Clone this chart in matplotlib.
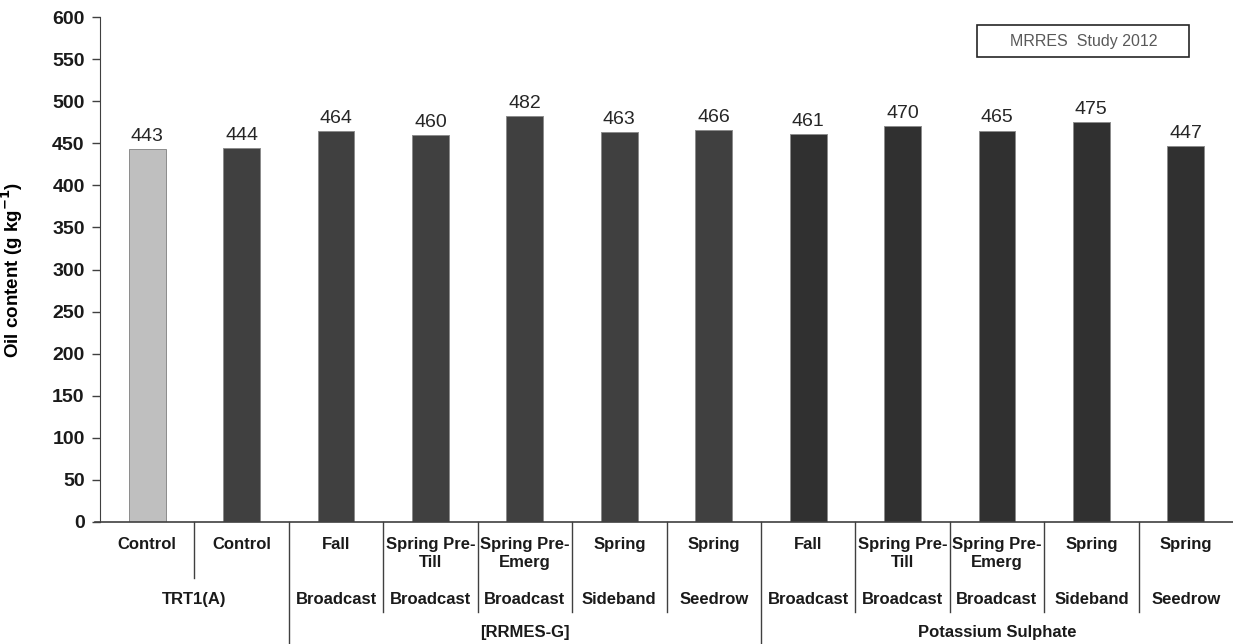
import matplotlib
matplotlib.use("Agg")
import matplotlib.pyplot as plt
from matplotlib.lines import Line2D
from matplotlib.patches import Rectangle

plt.rcParams['font.family'] = ['Liberation Sans', 'DejaVu Sans']

# data
values = [443, 444, 464, 460, 482, 463, 466, 461, 470, 465, 475, 447]
level1 = ["Control", "Control", "Fall", "Spring Pre-\nTill", "Spring Pre-\nEmerg", "Spring", "Spring",
          "Fall", "Spring Pre-\nTill", "Spring Pre-\nEmerg", "Spring", "Spring"]
level2 = ["TRT1(A)", "Broadcast", "Broadcast", "Broadcast", "Sideband", "Seedrow",
          "Broadcast", "Broadcast", "Broadcast", "Sideband", "Seedrow"]
level2_span = [2, 1, 1, 1, 1, 1, 1, 1, 1, 1, 1]
groups = ["", "[RRMES-G]", "Potassium Sulphate"]
group_size = [2, 5, 5]
bar_colors = ["#bfbfbf", "#404040"] + ["#404040"] * 5 + ["#303030"] * 5
yticks = list(range(0, 601, 50))

fig = plt.figure(figsize=(12.33, 6.44), dpi=100)
ax = fig.add_axes([100 / 1233, 1 - 522 / 644, 1 - 100 / 1233, 505 / 644])

x = list(range(len(values)))
bars = ax.bar(x, values, width=0.39, color=bar_colors, edgecolor="#8c8c8c", linewidth=0.7, zorder=2)
for xi, v in zip(x, values):
    ax.annotate(str(v), (xi, v), xytext=(0, 3), textcoords="offset points",
                ha="center", va="bottom", fontsize=14, color="#262626")

ax.set_xlim(-0.5, len(values) - 0.5)
ax.set_ylim(0, 600)
ax.set_yticks(yticks)
ax.set_yticklabels([str(t) for t in yticks], fontsize=14, fontweight="bold", color="#1a1a1a")
ax.tick_params(axis="y", direction="out", length=6, width=1, color="#404040", pad=5)
ax.set_xticks([])
for s in ["top", "right", "bottom"]:
    ax.spines[s].set_visible(False)
ax.spines["left"].set_color("#404040")
ax.set_ylabel("Oil content (g kg$^{\\mathbf{-1}}$)", fontsize=13.5, fontweight="bold")
ax.yaxis.set_label_coords(-0.066, 0.5)

trans = ax.get_xaxis_transform()

def vline(xpos, y1):
    ax.add_line(Line2D([xpos, xpos], [0, y1], transform=trans, color="#404040",
                       lw=1, clip_on=False))

# x axis line
ax.add_line(Line2D([-0.55, len(values) - 0.5], [0, 0], transform=trans, color="#404040",
                   lw=1.2, clip_on=False))

# level 1 labels
for xi, lab in zip(x, level1):
    ax.text(xi, -0.030, lab, transform=trans, ha="center", va="top", fontsize=12,
            fontweight="bold", linespacing=1.25, color="#1a1a1a")

# level 2 labels and separators
pos = 0
for lab, span in zip(level2, level2_span):
    ax.text(pos + (span - 1) / 2, -0.153, lab, transform=trans, ha="center", va="center",
            fontsize=12, fontweight="bold", color="#1a1a1a")
    for k in range(1, span):
        vline(pos + k - 0.5, -0.111)
    pos += span
for b in range(1, len(values)):
    if b not in (1, 2, 7):
        vline(b - 0.5, -0.178)

# group labels and separators
pos = 0
for g, n in zip(groups, group_size):
    ax.text(pos + (n - 1) / 2, -0.218, g, transform=trans, ha="center", va="center",
            fontsize=12, fontweight="bold", color="#1a1a1a")
    if pos > 0:
        vline(pos - 0.5, -0.242)
    pos += n

# study box
ax.add_patch(Rectangle((0.774, 0.921), 0.187, 0.063, transform=ax.transAxes,
                       fc="white", ec="#262626", lw=1.2, clip_on=False))
ax.text(0.868, 0.952, "MRRES  Study 2012", transform=ax.transAxes, ha="center", va="center",
        fontsize=11.5, color="#595959")

fig.savefig("out.png", dpi=100)
